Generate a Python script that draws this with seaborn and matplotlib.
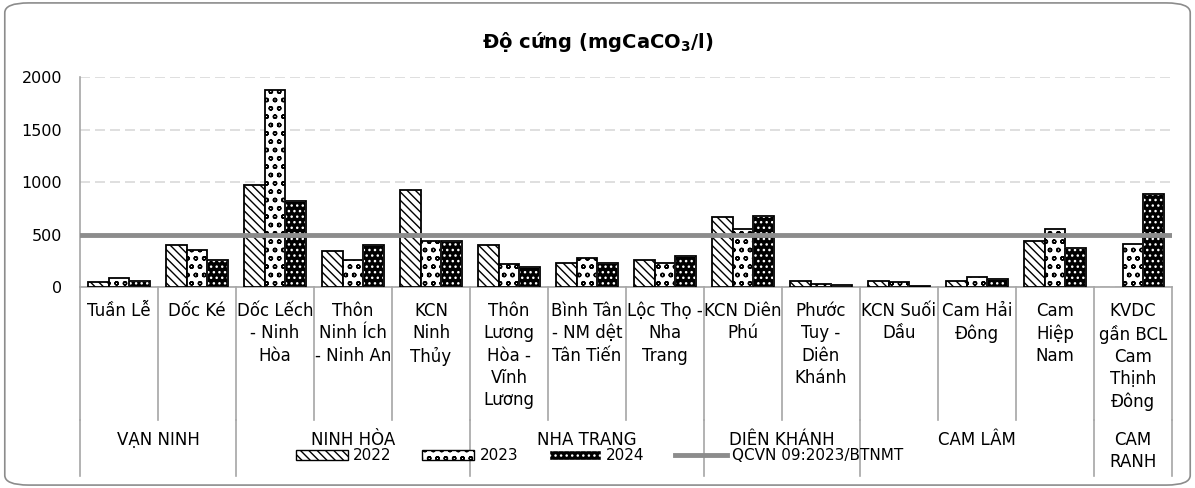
import numpy as np
import pandas as pd
import matplotlib
matplotlib.use('Agg')
import matplotlib.pyplot as plt
import matplotlib.transforms as mtransforms
from matplotlib.patches import Patch, Rectangle, FancyBboxPatch
from matplotlib.lines import Line2D
import seaborn as sns

# data
sites = ['Tuần Lễ', 'Dốc Ké', 'Dốc Lếch\n- Ninh\nHòa', 'Thôn\nNinh Ích\n- Ninh An',
         'KCN\nNinh\nThủy', 'Thôn\nLương\nHòa -\nVĩnh\nLương', 'Bình Tân\n- NM dệt\nTân Tiến',
         'Lộc Thọ -\nNha\nTrang', 'KCN Diên\nPhú', 'Phước\nTuy -\nDiên\nKhánh',
         'KCN Suối\nDầu', 'Cam Hải\nĐông', 'Cam\nHiệp\nNam', 'KVDC\ngần BCL\nCam\nThịnh\nĐông']
districts = ['VẠN NINH', 'NINH HÒA', 'NHA TRANG', 'DIÊN KHÁNH', 'CAM LÂM', 'CAM\nRANH']
district_sizes = [2, 3, 3, 2, 3, 1]
years = ['2022', '2023', '2024']
v2022 = [51, 406, 974, 346, 930, 403, 229, 260, 673, 57, 57, 63, 438, np.nan]
v2023 = [86, 352, 1873, 257, 438, 222, 279, 232, 559, 35, 51, 98, 555, 416]
v2024 = [57, 257, 819, 400, 444, 190, 229, 298, 679, 25, 10, 79, 378, 885]
qcvn = 500
qcvn_label = 'QCVN 09:2023/BTNMT'

df = pd.DataFrame({'site': sites * 3,
                   'year': np.repeat(years, len(sites)),
                   'value': v2022 + v2023 + v2024})

plt.rcParams['font.family'] = ['DejaVu Sans']
plt.rcParams['hatch.linewidth'] = 1.0

fig = plt.figure(figsize=(11.95, 4.88), dpi=100)
ax = fig.add_axes([0.0669, 0.4109, 0.9138, 0.4313])

sns.barplot(data=df, x='site', y='value', hue='year', order=sites, hue_order=years,
            palette=['white', 'white', 'black'], edgecolor='black', linewidth=1.3,
            width=0.8, gap=0, ax=ax, legend=False, zorder=3)

hatches = ['\\\\\\\\', 'oo', '...']
for cont, h, yr in zip(ax.containers, hatches, years):
    for p in cont:
        p.set_hatch(h)
        if yr == '2024':
            p.set_edgecolor('white')
            ax.add_patch(Rectangle(p.get_xy(), p.get_width(), p.get_height(),
                                   fill=False, edgecolor='black', linewidth=1.3, zorder=4))

ax.axhline(qcvn, color='#8c8c8c', linewidth=3.5, zorder=5)

ax.set_ylim(0, 2000)
ax.set_xlim(-0.5, len(sites) - 0.5)
ax.set_yticks([0, 500, 1000, 1500, 2000])
ax.tick_params(axis='y', length=0, labelsize=11.5, pad=13)
ax.set_xticks([])
ax.set_xlabel('')
ax.set_ylabel('')
ax.yaxis.grid(True, color='#d9d9d9', linestyle=(0, (6, 3)), linewidth=1.2, zorder=0)
ax.set_axisbelow(True)
for s in ['top', 'right']:
    ax.spines[s].set_visible(False)
ax.spines['left'].set_color('#a6a6a6')
ax.spines['bottom'].set_color('#a6a6a6')
ax.spines['left'].set_linewidth(1.2)
ax.spines['bottom'].set_linewidth(1.2)

# multi-level category axis
trans = mtransforms.blended_transform_factory(ax.transData, ax.transAxes)
for i, s in enumerate(sites):
    ax.text(i, -0.07, s, transform=trans, ha='center', va='top', fontsize=12,
            linespacing=1.3)
for b in range(len(sites) + 1):
    ax.plot([b - 0.5, b - 0.5], [0, -0.63], transform=trans, color='#a6a6a6',
            linewidth=1.2, clip_on=False)
start = 0
bounds = [0]
for name, n in zip(districts, district_sizes):
    ax.text(start + n / 2 - 0.5, -0.68, name, transform=trans, ha='center', va='top',
            fontsize=12, linespacing=1.3)
    start += n
    bounds.append(start)
for b in bounds:
    ax.plot([b - 0.5, b - 0.5], [-0.63, -0.895], transform=trans, color='#a6a6a6',
            linewidth=1.2, clip_on=False)

fig.text(0.5, 0.914, 'Độ cứng (mgCaCO$_\\mathbf{3}$/l)', ha='center', va='center',
         fontsize=14, fontweight='bold')

handles = [Patch(facecolor='white', edgecolor='black', hatch=hatches[0], label='2022'),
           Patch(facecolor='white', edgecolor='black', hatch=hatches[1], label='2023'),
           Patch(facecolor='black', edgecolor='black', hatch=hatches[2], label='2024'),
           Line2D([0], [0], color='#8c8c8c', linewidth=3.5, label=qcvn_label)]
handles[2].set_edgecolor('white')
fig.legend(handles=handles, loc='center', bbox_to_anchor=(0.502, 0.066), ncol=4,
           frameon=False, fontsize=11, handlelength=3.4, handleheight=0.65,
           columnspacing=2.0, handletextpad=0.35)

fig.patches.append(FancyBboxPatch((0.004, 0.006), 0.992, 0.988,
                                  boxstyle='round,pad=0,rounding_size=0.02',
                                  transform=fig.transFigure, facecolor='none',
                                  edgecolor='#8c8c8c', linewidth=1.2))

fig.savefig('out.png', dpi=100)
